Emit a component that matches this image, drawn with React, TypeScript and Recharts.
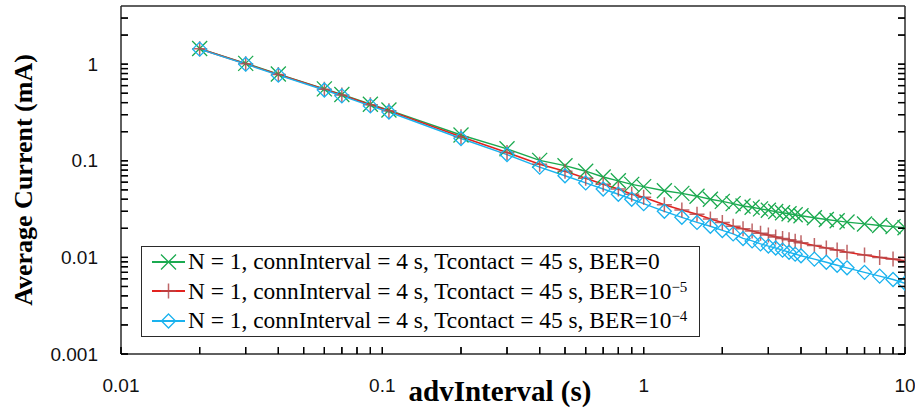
import React from "react";
import { LineChart, Line, XAxis, YAxis, Label } from "recharts";

// advInterval (s)
const advInterval = [
    0.02, 0.03, 0.04, 0.06, 0.07, 0.09, 0.106, 0.2, 0.3, 0.4, 0.5, 0.6, 0.7, 0.8,
    0.9, 1.0, 1.2, 1.4, 1.6, 1.8, 2.0, 2.2, 2.4, 2.6, 2.8, 3.0, 3.2, 3.4, 3.6,
    3.8, 4.0, 4.5, 5, 5.5, 6, 7, 8, 9, 10,
];

// average current (mA)
const currentBer0 = [
    1.45, 1.02, 0.79, 0.555, 0.485, 0.385, 0.335, 0.185, 0.133, 0.101, 0.089,
    0.078, 0.068, 0.062, 0.057, 0.054, 0.049, 0.046, 0.043, 0.04, 0.038, 0.036,
    0.034, 0.033, 0.0318, 0.0308, 0.0298, 0.029, 0.0283, 0.0276, 0.027, 0.0257,
    0.0247, 0.0239, 0.0232, 0.0222, 0.0214, 0.0208, 0.0203,
];
const currentBer1e5 = [
    1.44, 1.01, 0.78, 0.55, 0.48, 0.38, 0.33, 0.177, 0.122, 0.092, 0.078, 0.066,
    0.057, 0.051, 0.045, 0.042, 0.035, 0.031, 0.028, 0.025, 0.023, 0.021, 0.0198,
    0.0188, 0.0178, 0.017, 0.0163, 0.0157, 0.0152, 0.0147, 0.0142, 0.0133,
    0.0125, 0.0119, 0.0113, 0.0106, 0.01, 0.0096, 0.0092,
];
const currentBer1e4 = [
    1.43, 1.0, 0.77, 0.54, 0.47, 0.37, 0.32, 0.17, 0.116, 0.086, 0.07, 0.059,
    0.051, 0.045, 0.04, 0.036, 0.03, 0.026, 0.023, 0.021, 0.019, 0.0175, 0.0157,
    0.0148, 0.0138, 0.0131, 0.0125, 0.0119, 0.0113, 0.0108, 0.0104, 0.0096,
    0.0089, 0.0083, 0.0078, 0.007, 0.0064, 0.0059, 0.0054,
];

const X_MAJOR = [0.01, 0.1, 1, 10];
const X_MINOR = [
    0.02, 0.03, 0.04, 0.05, 0.06, 0.07, 0.08, 0.09, 0.2, 0.3, 0.4, 0.5, 0.6, 0.7,
    0.8, 0.9, 2, 3, 4, 5, 6, 7, 8, 9,
];
const Y_MAJOR = [0.001, 0.01, 0.1, 1];
const Y_MINOR = [
    0.002, 0.003, 0.004, 0.005, 0.006, 0.007, 0.008, 0.009, 0.02, 0.03, 0.04,
    0.05, 0.06, 0.07, 0.08, 0.09, 0.2, 0.3, 0.4, 0.5, 0.6, 0.7, 0.8, 0.9, 2, 3,
];

const LEGEND_PREFIX = "N = 1, connInterval = 4 s, Tcontact = 45 s, ";
const berLabels = ["BER=0", "BER=10", "BER=10"];
const berExponents = ["", "\u22125", "\u22124"];

const GREEN = "#1BAA50";
const RED_LINE = "#E2231F";
const RED_MARK = "#B34A4C";
const BLUE = "#1AB2EE";
const AXIS = "#2a2a2a";
const SANS = "'Liberation Sans', Arial, sans-serif";
const SERIF = "'Liberation Serif', 'Times New Roman', serif";
const TICK_LEN = -7; // negative => ticks point into the plot

const data = advInterval.map((x, i) => ({
    x,
    ber0: currentBer0[i],
    ber5: currentBer1e5[i],
    ber4: currentBer1e4[i],
}));

const isMajor = (v: number, majors: number[]) =>
    majors.some((m) => Math.abs(m - v) / m < 1e-6);

// tick label position sits at the inner end of the tick (tickSize<0, tickMargin=0)
const BottomLabel = ({ x, y, payload }: any) => (
    <g>
        <line x1={x} y1={y} x2={x} y2={y + 7} stroke="#000" strokeWidth={1.3} />
        {isMajor(payload.value, X_MAJOR) && (
            <text x={x} y={y + 45} textAnchor="middle" fontSize={19} fontFamily={SANS} fill="#111">
                {payload.value}
            </text>
        )}
    </g>
);

const TopMark = ({ x, y }: any) => (
    <line x1={x} y1={y} x2={x} y2={y - 7} stroke="#000" strokeWidth={1.3} />
);

const LeftLabel = ({ x, y, payload }: any) => (
    <g>
        <line x1={x} y1={y} x2={x - 7} y2={y} stroke="#000" strokeWidth={1.3} />
        {isMajor(payload.value, Y_MAJOR) && (
            <text x={x - 30} y={y} dy="0.35em" textAnchor="end" fontSize={19} fontFamily={SANS} fill="#111">
                {payload.value}
            </text>
        )}
    </g>
);

const RightMark = ({ x, y }: any) => (
    <line x1={x} y1={y} x2={x + 7} y2={y} stroke="#000" strokeWidth={1.3} />
);

const CrossDot = ({ cx, cy }: any) => {
    if (cx == null || cy == null) return null;
    const s = 7.5;
    return (
        <path
            d={`M${cx - s},${cy - s}L${cx + s},${cy + s}M${cx - s},${cy + s}L${cx + s},${cy - s}`}
            stroke={GREEN}
            strokeWidth={1.3}
            fill="none"
        />
    );
};

const PlusDot = ({ cx, cy }: any) => {
    if (cx == null || cy == null) return null;
    const s = 7.5;
    return (
        <path
            d={`M${cx - s},${cy}L${cx + s},${cy}M${cx},${cy - s}L${cx},${cy + s}`}
            stroke={RED_MARK}
            strokeWidth={1.5}
            strokeOpacity={0.85}
            fill="none"
        />
    );
};

const DiamondDot = ({ cx, cy }: any) => {
    if (cx == null || cy == null) return null;
    const s = 7;
    return (
        <path
            d={`M${cx},${cy - s}L${cx + s},${cy}L${cx},${cy + s}L${cx - s},${cy}Z`}
            stroke={BLUE}
            strokeWidth={1.3}
            fill="none"
        />
    );
};

const legendIcons = [
    { color: GREEN, Dot: CrossDot },
    { color: RED_LINE, Dot: PlusDot },
    { color: BLUE, Dot: DiamondDot },
];

const LegendBox = () => (
    <div
        style={{
            position: "absolute",
            left: 141,
            top: 246,
            border: `1px solid ${AXIS}`,
            background: "#fff",
            boxSizing: "border-box",
            width: 559,
            height: 91,
            paddingLeft: 10,
            fontFamily: SERIF,
            fontSize: 23.4,
            color: "#000",
        }}
    >
        {legendIcons.map(({ color, Dot }, i) => (
            <div key={i} style={{ display: "flex", alignItems: "center", height: 29.5, whiteSpace: "nowrap" }}>
                <svg width={36} height={20} style={{ flex: "none" }}>
                    <line x1={0} y1={10} x2={33} y2={10} stroke={color} strokeWidth={1.8} />
                    <Dot cx={16.5} cy={10} />
                </svg>
                <span>
                    {LEGEND_PREFIX}
                    {berLabels[i]}
                    {berExponents[i] && (
                        <sup style={{ fontSize: 15, verticalAlign: "0.5em", lineHeight: 0 }}>{berExponents[i]}</sup>
                    )}
                </span>
            </div>
        ))}
    </div>
);

const xAxisCommon = {
    type: "number" as const,
    scale: "log" as const,
    domain: [0.01, 10],
    allowDataOverflow: true,
    ticks: [...X_MAJOR, ...X_MINOR],
    interval: 0,
    tickSize: TICK_LEN,
    tickMargin: 0,
    tickLine: { stroke: "#000", strokeWidth: 1.3 },
    axisLine: { stroke: AXIS, strokeWidth: 1.5 },
};

const yAxisCommon = {
    type: "number" as const,
    scale: "log" as const,
    domain: [0.001, 4],
    allowDataOverflow: true,
    ticks: [...Y_MAJOR, ...Y_MINOR],
    interval: 0,
    tickSize: TICK_LEN,
    tickMargin: 0,
    tickLine: { stroke: "#000", strokeWidth: 1.3 },
    axisLine: { stroke: AXIS, strokeWidth: 1.5 },
};

export default function App() {
    return (
        <div style={{ position: "absolute", left: 0, top: 0, width: 915, height: 410, background: "#fff" }}>
            <LineChart width={915} height={410} data={data} margin={{ top: 5, right: 9, left: 0, bottom: 0 }}>
                <XAxis {...xAxisCommon} dataKey="x" tick={<BottomLabel />} height={56}>
                    <Label
                        content={() => (
                            <text x={500} y={401} textAnchor="middle" fontSize={29} fontWeight="bold" fontFamily={SERIF} fill="#000">
                                advInterval (s)
                            </text>
                        )}
                    />
                </XAxis>
                <XAxis {...xAxisCommon} xAxisId="top" orientation="top" tick={<TopMark />} height={1} />
                <YAxis {...yAxisCommon} tick={<LeftLabel />} width={121}>
                    <Label
                        content={() => (
                            <text
                                x={23}
                                y={180}
                                dy="0.35em"
                                transform="rotate(-90 23 180)"
                                textAnchor="middle"
                                fontSize={26}
                                fontWeight="bold"
                                fontFamily={SERIF}
                                fill="#000"
                            >
                                Average Current (mA)
                            </text>
                        )}
                    />
                </YAxis>
                <YAxis {...yAxisCommon} yAxisId="right" orientation="right" tick={<RightMark />} width={1} />
                <Line
                    dataKey="ber0"
                    type="linear"
                    stroke={GREEN}
                    strokeWidth={1.4}
                    dot={(p: any) => <CrossDot key={`g-${p.index}`} {...p} />}
                    isAnimationActive={false}
                />
                <Line
                    dataKey="ber5"
                    type="linear"
                    stroke={RED_LINE}
                    strokeWidth={1.6}
                    dot={(p: any) => <PlusDot key={`r-${p.index}`} {...p} />}
                    isAnimationActive={false}
                />
                <Line
                    dataKey="ber4"
                    type="linear"
                    stroke={BLUE}
                    strokeWidth={1.4}
                    dot={(p: any) => <DiamondDot key={`b-${p.index}`} {...p} />}
                    isAnimationActive={false}
                />
            </LineChart>
            <LegendBox />
        </div>
    );
}
